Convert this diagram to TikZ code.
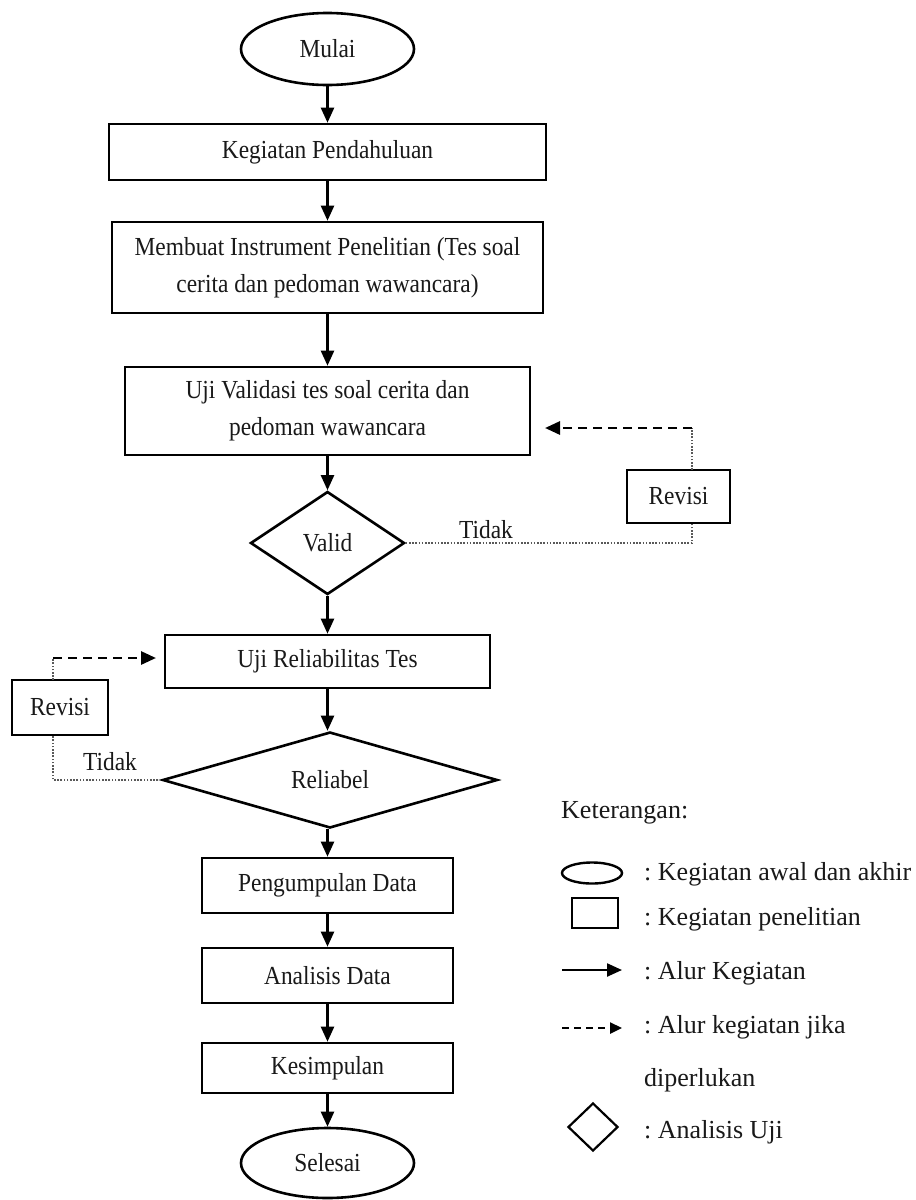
\documentclass[tikz,border=0pt]{standalone}
\usepackage{fontspec}
\setmainfont{Liberation Serif}
\newfontfamily\boxfont[FakeStretch=0.9]{Liberation Serif}
\usetikzlibrary{shapes.geometric,arrows.meta}
\frenchspacing
\tikzset{
  base/.style={draw=black, line width=2.6pt, inner sep=0pt, align=center,
    font=\boxfont\fontsize{26}{37}\selectfont, text=black!90},
  stepbox/.style={base, rectangle},
  term/.style={base, ellipse},
  decide/.style={base, diamond},
  flow/.style={draw=black, line width=2.3pt, -{Triangle[length=15pt,width=13pt]}},
  opt/.style={draw=black, line width=2.8pt, dash pattern=on 9pt off 6pt, -{Triangle[length=15pt,width=13pt]}},
  dots/.style={draw=black!65, line width=1.4pt, dash pattern=on 1.6pt off 1.6pt},
  lbl/.style={inner sep=0pt, font=\boxfont\fontsize{26}{37}\selectfont, text=black!90},
  leg/.style={inner sep=0pt, anchor=west, font=\fontsize{26}{37}\selectfont, text=black!90},
}
\begin{document}
\begin{tikzpicture}[x=1pt,y=-1pt]
\useasboundingbox (0,0) rectangle (916,1200);
\fill[white] (0,0) rectangle (916,1200);

% main flow
\node[term, minimum width=173pt, minimum height=72pt] (mulai) at (327.5,49) {Mulai};
\node[stepbox, minimum width=437pt, minimum height=56pt] (kp) at (327.5,152) {Kegiatan Pendahuluan};
\node[stepbox, minimum width=431pt, minimum height=91pt] (mi) at (327.5,267.5) {Membuat Instrument Penelitian (Tes soal\\cerita dan pedoman wawancara)};
\node[stepbox, minimum width=405pt, minimum height=88pt] (uv) at (327.5,411) {Uji Validasi tes soal cerita dan\\pedoman wawancara};
\node[decide, aspect=1.5, minimum width=154pt, minimum height=103pt] (valid) at (327.5,543) {Valid};
\node[stepbox, minimum width=325pt, minimum height=53pt] (ur) at (327.5,661.5) {Uji Reliabilitas Tes};
\node[decide, aspect=3.5, minimum width=335pt, minimum height=96pt] (rel) at (330,780) {Reliabel};
\node[stepbox, minimum width=251pt, minimum height=55pt] (pd) at (327.5,885.5) {Pengumpulan Data};
\node[stepbox, minimum width=251pt, minimum height=55pt] (ad) at (327.5,975.5) {Analisis Data};
\node[stepbox, minimum width=251pt, minimum height=50pt] (ks) at (327.5,1068) {Kesimpulan};
\node[term, minimum width=173pt, minimum height=70pt] (selesai) at (327.5,1163) {Selesai};

\draw[flow] (mulai.south) -- (kp.north);
\draw[flow] (kp.south) -- (mi.north);
\draw[flow] (mi.south) -- (uv.north);
\draw[flow] (uv.south) -- (valid.north);
\draw[flow] (valid.south) -- (ur.north);
\draw[flow] (ur.south) -- (ur.south |- rel.north);
\draw[flow] (ur.south |- rel.south) -- (pd.north);
\draw[flow] (pd.south) -- (ad.north);
\draw[flow] (ad.south) -- (ks.north);
\draw[flow] (ks.south) -- (selesai.north);

% revision loop 1
\node[stepbox, line width=2.4pt, minimum width=103pt, minimum height=53pt] (rev1) at (678.5,496.5) {Revisi};
\coordinate (c1) at (692,543);
\coordinate (c1b) at (692,523);
\coordinate (c1t) at (692,470);
\coordinate (c1u) at (692,428);
\coordinate (t1) at (545,428);
\draw[dots] (valid.east) -- (c1) -- (c1b);
\draw[dots] (c1t) -- (c1u);
\draw[opt] (c1u) -- (t1);
\node[lbl] (tidak1) at (486,530) {Tidak};

% revision loop 2
\node[stepbox, line width=2.4pt, minimum width=96pt, minimum height=55pt] (rev2) at (60,707.5) {Revisi};
\coordinate (c2) at (53,780);
\coordinate (c2b) at (53,735);
\coordinate (c2t) at (53,680);
\coordinate (c2u) at (53,658);
\coordinate (t2) at (156,658);
\draw[dots] (rel.west) -- (c2) -- (c2b);
\draw[dots] (c2t) -- (c2u);
\draw[opt] (c2u) -- (t2);
\node[lbl] (tidak2) at (110,762) {Tidak};

% legend
\node[leg] (ket) at (561,813) {Keterangan:};
\node[draw=black, line width=2.4pt, ellipse, inner sep=0pt, minimum width=60pt, minimum height=21pt] (lg1) at (592,873) {};
\node[leg] (lt1) at (644,874) {: Kegiatan awal dan akhir};
\node[draw=black, line width=2.4pt, rectangle, inner sep=0pt, minimum width=46pt, minimum height=30pt] (lg2) at (595,913) {};
\node[leg] (lt2) at (644,919) {: Kegiatan penelitian};
\coordinate (la1) at (562,970);
\coordinate (la2) at (622,970);
\draw[flow] (la1) -- (la2);
\node[leg] (lt3) at (644,973) {: Alur Kegiatan};
\coordinate (lb1) at (562,1028);
\coordinate (lb2) at (622,1028);
\draw[opt, line width=2.4pt, dash pattern=on 7pt off 5pt, -{Triangle[length=12pt,width=11pt]}] (lb1) -- (lb2);
\node[leg] (lt4) at (644,1027) {: Alur kegiatan jika};
\node[leg] (lt5) at (644,1080) {diperlukan};
\node[draw=black, line width=2.2pt, diamond, inner sep=0pt, minimum width=50pt, minimum height=48pt] (lg3) at (593,1127) {};
\node[leg] (lt6) at (644,1132) {: Analisis Uji};
\end{tikzpicture}
\end{document}
